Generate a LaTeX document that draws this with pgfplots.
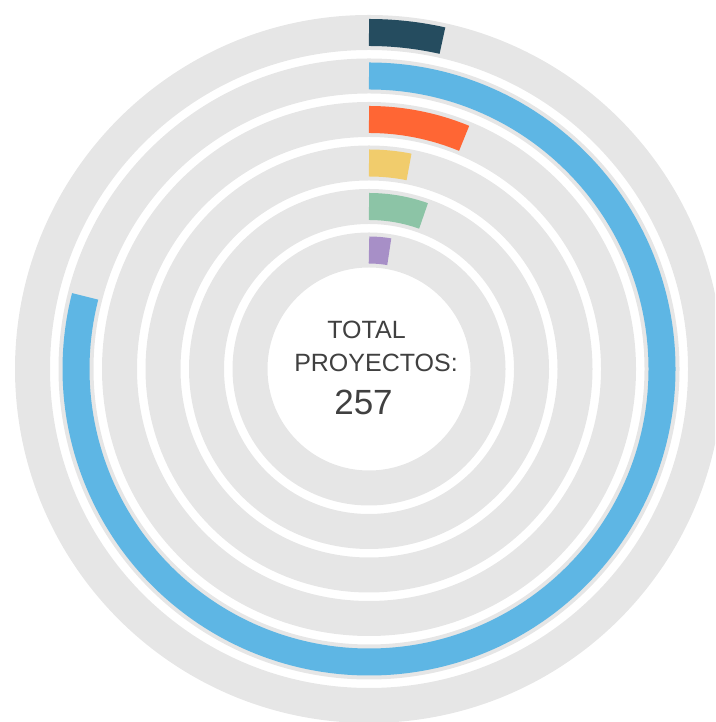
\documentclass[border=0pt]{standalone}
\usepackage{pgfplots}
\pgfplotsset{compat=1.18}
\usepackage{pgfplotstable}
\usepackage{fontspec}
\setmainfont{Liberation Sans}
\definecolor{c1}{HTML}{254C5F}
\definecolor{c2}{HTML}{5EB6E4}
\definecolor{c3}{HTML}{FF6634}
\definecolor{c4}{HTML}{F1CC6C}
\definecolor{c5}{HTML}{8CC4A6}
\definecolor{c6}{HTML}{A78FC7}
\definecolor{trackgrey}{HTML}{E6E6E6}
\definecolor{txt}{HTML}{404040}

\pgfplotstableread{
cx cy radius value col
369 353 336.5 9 1
369 353 293 203 2
369 353 249.5 16 3
369 353 206 8 4
369 353 162.5 14 5
369 353 119 7 6
}\bars

\begin{document}
\begin{tikzpicture}
\begin{axis}[
  x=1pt, y=1pt, xmin=0, xmax=715, ymin=0, ymax=722,
  scale only axis, hide axis, clip marker paths=true,
]
% grey tracks
\addplot[scatter, only marks, mark=*, mark size=0.01pt,
  mark options={draw=none, fill=none},
  visualization depends on={\thisrow{radius} \as \rad},
  scatter/@pre marker code/.code={%
    \draw[draw=trackgrey, line width=35pt] (0,0) circle[radius=\rad pt];},
  scatter/@post marker code/.code={}]
  table[x=cx, y=cy] {\bars};
% bars
\addplot[scatter, only marks, mark=*, mark size=0.01pt,
  mark options={draw=none, fill=none},
  visualization depends on={\thisrow{radius} \as \rad},
  visualization depends on={\thisrow{value} \as \val},
  visualization depends on={\thisrow{col} \as \colidx},
  scatter/@pre marker code/.code={%
    \pgfmathsetmacro\ang{90-\val/257*360}%
    \pgfmathtruncatemacro\ci{\colidx}%
    \draw[draw=c\ci, line width=27pt, line cap=butt] (90:\rad pt) arc[start angle=90, end angle=\ang, radius=\rad pt];},
  scatter/@post marker code/.code={}]
  table[x=cx, y=cy] {\bars};
\node[anchor=base, text=txt, font=\fontsize{25}{30}\selectfont] at (axis cs:366.5,383) {TOTAL};
\node[anchor=base, text=txt, font=\fontsize{25}{30}\selectfont] at (axis cs:376,350) {PROYECTOS:};
\node[anchor=base, text=txt, font=\fontsize{35}{40}\selectfont] at (axis cs:363.5,307) {257};
\coordinate (sw) at (axis cs:0,0);
\coordinate (ne) at (axis cs:715,722);
\end{axis}
\pgfresetboundingbox
\path[use as bounding box] (sw) rectangle (ne);
\end{tikzpicture}
\end{document}
